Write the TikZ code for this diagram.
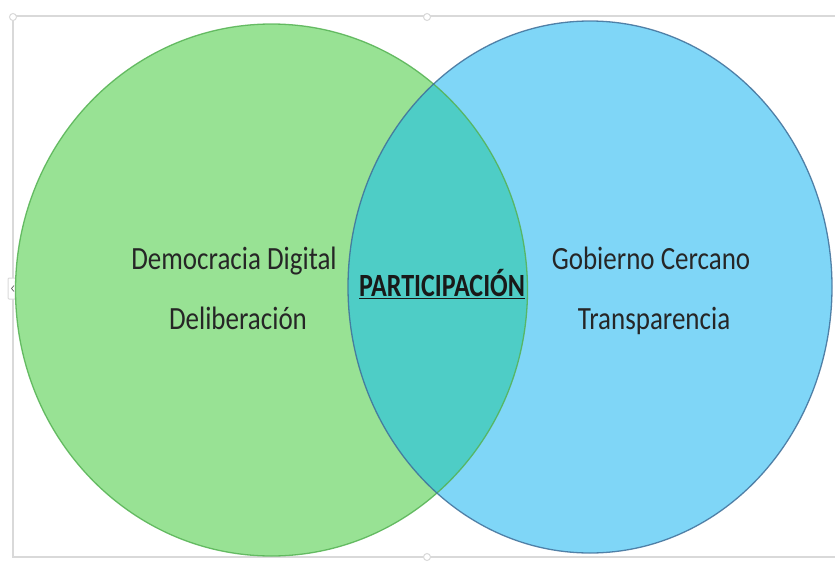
\documentclass[tikz,border=0pt]{standalone}
\usepackage{fontspec}
\setmainfont{Carlito}
\usetikzlibrary{positioning}
\definecolor{verde}{HTML}{98E294}
\definecolor{verdeborde}{HTML}{55B253}
\definecolor{azul}{HTML}{7FD6F7}
\definecolor{azulborde}{HTML}{3F6F99}
\definecolor{cruce}{HTML}{4ECDC6}
\definecolor{marco}{HTML}{D9D9D9}
\newcommand{\alto}[2][1]{\scalebox{#1}[1.2]{#2}}
\tikzstyle{every node}=[inner sep=0pt]
\tikzstyle{etiqueta}=[anchor=base,font=\fontsize{27}{30}\selectfont,text=black!85]
\tikzstyle{titulo}=[anchor=base,font=\bfseries\fontsize{27}{30}\selectfont,text=black!90]
\tikzstyle{asa}=[draw=marco,fill=white,line width=1pt]

\begin{document}
\begin{tikzpicture}[x=1pt,y=-1pt]
  \useasboundingbox (0,0) rectangle (835,562);
  % marco de seleccion
  \draw[marco,line width=2pt] (13,16) -- (840,16) (13,16) -- (13,557) -- (840,557);
  \draw[asa] (13,17) circle (3.5);
  \draw[asa] (427,17) circle (3.5);
  \draw[asa] (427,557) circle (3.5);
  \draw[asa,rounded corners=1pt] (8,278) rectangle (18,299);
  \draw[black!60,line width=0.7pt] (14,285.5) -- (11.5,288.5) -- (14,291.5);
  % circulos
  \coordinate (cv) at (271.5,290);
  \coordinate (ca) at (590,287);
  \fill[verde] (cv) ellipse (256 and 266);
  \fill[azul] (ca) ellipse (242 and 266);
  \begin{scope}
    \clip (cv) ellipse (256 and 266);
    \fill[cruce] (ca) ellipse (242 and 266);
  \end{scope}
  \draw[verdeborde,line width=1.3pt,opacity=0.85] (cv) ellipse (256 and 266);
  \draw[azulborde,line width=1.3pt,opacity=0.85] (ca) ellipse (242 and 266);
  % textos
  \node[etiqueta] (dem) at (234,269) {\alto{Democracia Digital}};
  \node[etiqueta] (del) at (238,329) {\alto{Deliberación}};
  \node[titulo] (par) at (442,296) {\alto[0.965]{\underline{PARTICIPACIÓN}}};
  \node[etiqueta] (gob) at (651,269) {\alto{Gobierno Cercano}};
  \node[etiqueta] (tra) at (654,329) {\alto{Transparencia}};
\end{tikzpicture}
\end{document}
